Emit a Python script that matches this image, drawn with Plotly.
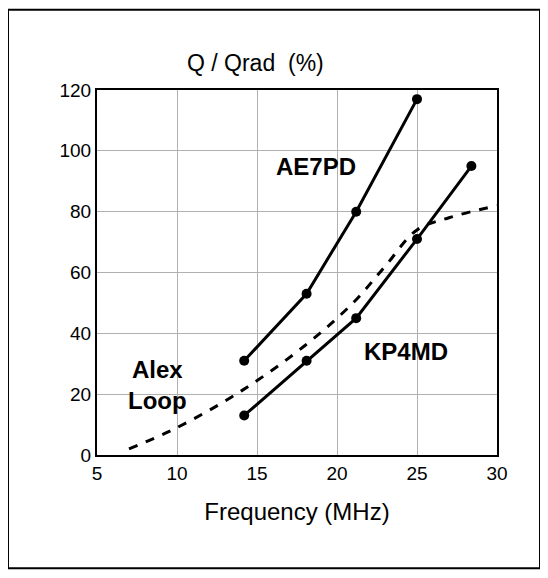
import plotly.graph_objects as go

ae7pd_f = [14.2, 18.1, 21.2, 25.0]
ae7pd_q = [31, 53, 80, 117]
kp4md_f = [14.2, 18.1, 21.2, 25.0, 28.4]
kp4md_q = [13, 31, 45, 71, 95]
alex_f = [7, 10, 14, 18, 21, 23, 25, 27, 30]
alex_q = [2, 9, 21, 36, 50, 62, 74, 78, 82]

fig = go.Figure()
for f, q in [(ae7pd_f, ae7pd_q), (kp4md_f, kp4md_q)]:
    fig.add_trace(go.Scatter(x=f, y=q, mode="lines+markers",
                             line=dict(color="black", width=3),
                             marker=dict(color="black", size=10)))
fig.add_trace(go.Scatter(x=alex_f, y=alex_q, mode="lines", line_shape="spline",
                         line=dict(color="black", width=3, dash="dash")))

lbl = dict(family="Liberation Sans", size=24, color="black")
fig.add_annotation(x=18.7, y=95, text="<b>AE7PD</b>", showarrow=False, font=lbl)
fig.add_annotation(x=24.3, y=34, text="<b>KP4MD</b>", showarrow=False, font=lbl)
fig.add_annotation(x=8.8, y=23, text="<b>Alex<br>Loop</b>", showarrow=False, font=lbl)
fig.add_annotation(xref="paper", yref="paper", x=0.22, y=1.115, text="Q / Qrad  (%)",
                   showarrow=False, font=dict(family="Liberation Sans", size=23, color="black"))

fig.add_shape(type="rect", xref="paper", yref="paper", x0=-0.2225, x1=1.1075,
              y0=-0.31, y1=1.22, line=dict(color="black", width=2))

ax = dict(showgrid=True, gridcolor="#b0b0b0", gridwidth=1, showline=True, mirror=True,
          linecolor="black", linewidth=2, zeroline=False, ticks="",
          tickfont=dict(family="Liberation Sans", size=19, color="black"))
fig.update_xaxes(range=[5, 30], dtick=5, title=dict(text="Frequency (MHz)", standoff=20,
                 font=dict(family="Liberation Sans", size=24, color="black")), **ax)
fig.update_yaxes(range=[0, 120], dtick=20, **ax)
fig.update_layout(width=548, height=578, showlegend=False, plot_bgcolor="white",
                  paper_bgcolor="white", margin=dict(l=89, r=59, t=82, b=131))
fig.write_html("out.html")
